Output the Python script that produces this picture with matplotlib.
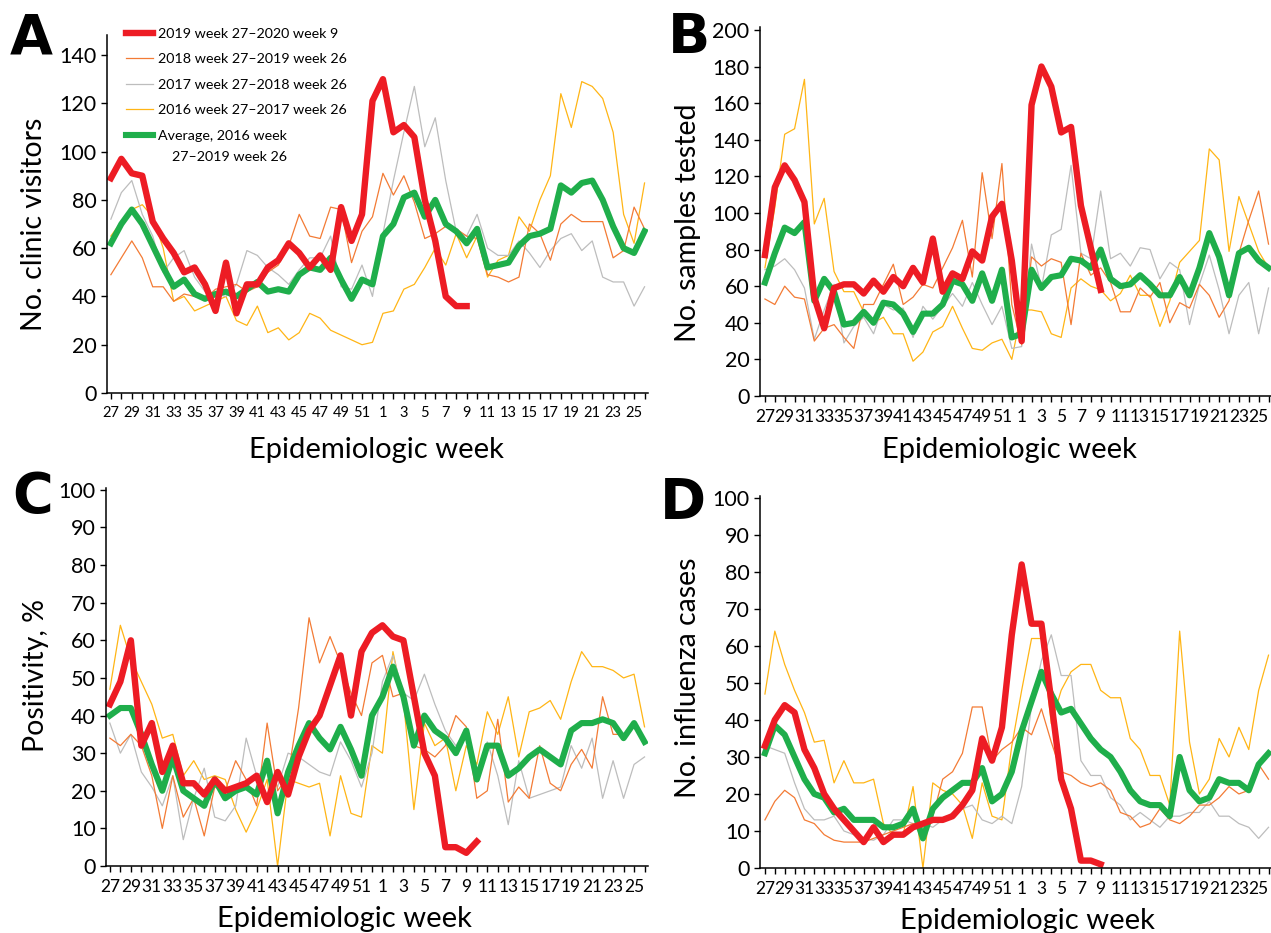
import numpy as np
import matplotlib
matplotlib.use("Agg")
import matplotlib.pyplot as plt
from matplotlib.lines import Line2D

plt.rcParams['font.family'] = ['Lato', 'DejaVu Sans']

weeks = list(range(27, 53)) + list(range(1, 27))

# A: clinic visitors
visits_2019 = [89, 97, 91, 90, 71, 64, 58, 50, 52, 45, 34, 54, 33, 45, 45, 52, 55, 62, 58, 52,
               57, 51, 77, 63, 74, 121, 130, 108, 111, 106, 80, 63, 40, 36, 36]
visits_2018 = [49, 56, 63, 56, 44, 44, 38, 41, 40, 39, 43, 44, 45, 42, 44, 50, 53, 61, 74, 65,
               64, 77, 76, 54, 67, 73, 91, 82, 90, 79, 64, 66, 69, 68, 65, 64, 49, 48, 46, 48,
               70, 66, 55, 70, 74, 71, 71, 71, 56, 59, 77, 68]
visits_2017 = [72, 83, 88, 74, 65, 50, 56, 59, 48, 42, 41, 40, 45, 59, 57, 52, 49, 45, 51, 56,
               56, 65, 44, 43, 53, 40, 66, 88, 108, 127, 102, 114, 88, 67, 65, 74, 60, 57, 57, 63,
               58, 52, 59, 64, 66, 59, 63, 48, 46, 46, 36, 44]
visits_2016 = [65, 71, 76, 78, 73, 60, 38, 40, 34, 36, 38, 40, 30, 28, 36, 25, 27, 22, 25, 33,
               31, 26, 24, 22, 20, 21, 33, 34, 43, 45, 52, 60, 53, 66, 56, 65, 48, 55, 57, 73,
               67, 80, 90, 124, 110, 129, 127, 122, 108, 74, 62, 87]
visits_avg = [62, 70, 76, 70, 61, 52, 44, 47, 41, 39, 41, 42, 40, 43, 46, 42, 43, 42, 49, 52,
              51, 56, 47, 39, 47, 45, 65, 70, 81, 83, 73, 80, 70, 67, 62, 68, 52, 53, 54, 61,
              65, 66, 68, 86, 83, 87, 88, 80, 69, 60, 58, 67]

# B: samples tested
samples_2019 = [77, 114, 126, 118, 106, 54, 37, 59, 61, 61, 56, 63, 57, 65, 60, 70, 62, 86, 57, 67,
                64, 79, 74, 98, 105, 74, 30, 159, 180, 169, 144, 147, 104, 81, 58]
samples_2018 = [53, 50, 60, 54, 53, 30, 37, 39, 32, 26, 50, 50, 61, 72, 50, 54, 61, 59, 70, 81,
                96, 65, 122, 86, 127, 50, 28, 76, 71, 75, 73, 39, 78, 66, 70, 62, 46, 46, 59, 54,
                62, 40, 51, 48, 61, 55, 43, 52, 78, 96, 112, 83]
samples_2017 = [69, 71, 75, 69, 59, 31, 47, 61, 29, 38, 43, 34, 50, 47, 48, 32, 49, 42, 49, 56,
                49, 62, 50, 39, 49, 26, 27, 83, 59, 88, 91, 126, 78, 75, 112, 75, 78, 71, 81, 80,
                64, 73, 69, 39, 61, 77, 58, 34, 55, 62, 34, 59]
samples_2016 = [70, 103, 143, 146, 173, 94, 108, 68, 57, 57, 46, 40, 43, 34, 34, 19, 24, 35, 38, 49,
                37, 26, 25, 29, 31, 20, 47, 47, 46, 34, 32, 59, 64, 60, 58, 52, 56, 66, 55, 55,
                38, 52, 73, 79, 85, 135, 129, 79, 109, 94, 79, 70]
samples_avg = [62, 78, 92, 89, 95, 52, 64, 57, 39, 40, 46, 40, 51, 50, 45, 35, 45, 45, 50, 63,
               61, 52, 67, 52, 69, 32, 34, 69, 59, 65, 66, 75, 74, 70, 80, 64, 60, 61, 66, 61,
               55, 55, 65, 55, 70, 89, 76, 55, 78, 81, 74, 70]

# C: positivity %
pos_2019 = [43, 49, 60, 32, 38, 25, 32, 22, 22, 19, 23, 20, 21, 22, 24, 17, 25, 19, 29, 36,
            40, 48, 56, 40, 57, 62, 64, 61, 60, 45, 30, 24, 5, 5, 3.5, 6.5]
pos_2018 = [34, 32, 35, 32, 24, 10, 24, 13, 18, 8, 21, 20, 28, 23, 16, 38, 20, 24, 42, 66,
            54, 61, 54, 46, 40, 54, 56, 45, 46, 32, 31, 29, 32, 40, 37, 18, 20, 39, 17, 21,
            18, 32, 22, 20, 27, 31, 26, 45, 35, 35, 37, 33]
pos_2017 = [38, 30, 35, 25, 21, 16, 24, 7, 18, 26, 13, 12, 16, 34, 24, 26, 21, 30, 29, 27,
            25, 24, 33, 28, 21, 30, 49, 56, 46, 44, 51, 43, 36, 32, 36, 24, 33, 24, 11, 28,
            18, 19, 20, 21, 32, 26, 34, 18, 28, 18, 27, 29]
pos_2016 = [47, 64, 55, 49, 43, 34, 35, 24, 28, 23, 24, 23, 15, 9, 15, 23, 0, 23, 22, 21,
            22, 8, 24, 14, 13, 32, 30, 57, 44, 15, 38, 32, 34, 20, 32, 27, 41, 35, 45, 29,
            41, 42, 44, 39, 49, 57, 53, 53, 52, 50, 51, 37]
pos_avg = [40, 42, 42, 35, 27, 20, 29, 20, 18, 16, 23, 18, 20, 21, 19, 28, 14, 25, 32, 38,
           34, 31, 37, 31, 24, 40, 45, 53, 45, 32, 40, 36, 34, 30, 36, 23, 32, 32, 24, 26,
           29, 31, 29, 27, 36, 38, 38, 39, 38, 34, 38, 33]

# D: influenza cases
flu_2019 = [33, 40, 44, 42, 32, 27, 20, 16, 13, 10, 7, 11, 7, 9, 9, 11, 12, 13, 13, 14,
            17, 21, 35, 29, 38, 63, 82, 66, 66, 45, 24, 16, 2, 2, 1]
flu_2018 = [13, 18, 21, 19, 13, 12, 9, 7.5, 7, 7, 7, 8, 9, 10, 11, 12, 11, 14, 24, 26,
            31, 43.5, 43.5, 29, 32, 34, 38, 36, 43, 34, 26, 25, 23, 22, 23, 21, 15, 14, 11, 12,
            16, 13, 12, 14, 17, 17, 19, 22, 20, 21, 28, 24]
flu_2017 = [33, 32, 31, 23, 16, 13, 13, 14, 10, 9, 8, 7.5, 9, 13, 13, 12, 12, 11, 13, 15,
            16, 17, 13, 12, 14, 12, 22, 44, 56, 63, 52, 52, 29, 25, 25, 19, 17, 13, 15, 13,
            11, 14, 14, 15, 15, 18, 14, 14, 12, 11, 8, 11]
flu_2016 = [47, 64, 55, 48, 42, 34, 34.5, 23, 29, 23, 23, 24, 12, 9, 9, 22, 0, 23, 21, 20,
            17, 8, 23, 14, 13, 33, 48, 62, 62, 39, 48, 53, 55, 55, 48, 46, 46, 35, 32, 25,
            25, 17, 64, 34, 20, 24, 35, 30, 38, 32, 48, 57.5]
flu_avg = [31, 38.5, 36, 30, 24, 20, 19, 15, 16, 13, 13, 13, 11, 11, 12, 16, 8, 16, 19, 21,
           23, 23, 27, 18, 20, 26, 37, 45, 53, 47, 42, 43, 39, 35, 32, 30, 26, 21, 18, 17,
           17, 14, 30, 21, 18, 19, 24, 23, 23, 21, 28, 31]

legend_labels = ['2019 week 27\u20132020 week 9', '2018 week 27\u20132019 week 26',
                 '2017 week 27\u20132018 week 26', '2016 week 27\u20132017 week 26',
                 'Average, 2016 week']

RED = '#ED1C24'
ORANGE = '#F37B35'
GRAY = '#BDBDBD'
YELLOW = '#FFB515'
GREEN = '#1FAE4B'

W, H = 1271, 933
fig = plt.figure(figsize=(W / 100, H / 100), dpi=100)


def box(l, r, t, b):
    return [l / W, 1 - b / H, (r - l) / W, (b - t) / H]


def panel(rect, s19, s18, s17, s16, avg, ylim, yticks, xlim, xfs):
    ax = fig.add_axes(rect)
    x = np.arange(len(weeks))
    ax.plot(x, s16, color=YELLOW, lw=0.9)
    ax.plot(x, s17, color=GRAY, lw=0.9)
    ax.plot(x, s18, color=ORANGE, lw=0.9)
    ax.plot(x, avg, color=GREEN, lw=4.4, solid_joinstyle='round')
    ax.plot(np.arange(len(s19)), s19, color=RED, lw=4.6, solid_joinstyle='round')
    ax.set_ylim(*ylim)
    ax.set_yticks(yticks)
    ax.set_xlim(*xlim)
    ax.set_xticks(x)
    ax.set_xticklabels([str(w) if i % 2 == 0 else '' for i, w in enumerate(weeks)])
    for s in ['top', 'right']:
        ax.spines[s].set_visible(False)
    for s in ['left', 'bottom']:
        ax.spines[s].set_linewidth(1.1)
    ax.tick_params(axis='y', length=4.5, width=1.0, pad=3, labelsize=15.5)
    ax.tick_params(axis='x', length=4.5, width=1.0, pad=5, labelsize=xfs)
    return ax


axA = panel(box(107, 648, 35, 393), visits_2019, visits_2018, visits_2017, visits_2016, visits_avg,
            (0, 148.3), range(0, 141, 20), (-0.37, 51.33), 10.5)
axB = panel(box(760, 1271, 27, 396), samples_2019, samples_2018, samples_2017, samples_2016, samples_avg,
            (0, 201.6), range(0, 201, 20), (-0.5, 51.25), 12.5)
axC = panel(box(106, 648, 488, 866), pos_2019, pos_2018, pos_2017, pos_2016, pos_avg,
            (0, 100.5), range(0, 101, 10), (-0.37, 51.33), 12.5)
axD = panel(box(760, 1271, 496, 868), flu_2019, flu_2018, flu_2017, flu_2016, flu_avg,
            (0, 100.5), range(0, 101, 10), (-0.5, 51.25), 12.5)

handles = [Line2D([], [], color=RED, lw=4.6), Line2D([], [], color=ORANGE, lw=0.9),
           Line2D([], [], color=GRAY, lw=0.9), Line2D([], [], color=YELLOW, lw=0.9),
           Line2D([], [], color=GREEN, lw=4.4)]
fig.legend(handles, legend_labels, loc='upper left', bbox_to_anchor=(126 / W, 1 - 28 / H),
           frameon=False, fontsize=10.3, handlelength=1.89, handletextpad=0.35,
           labelspacing=0.94, borderpad=0, borderaxespad=0)
fig.text(172 / W, 1 - 157 / H, '27\u20132019 week 26', fontsize=10.3, va='center', ha='left')

# panel letters
for lab, px, py in [('A', 10, 53), ('B', 668, 53), ('C', 12, 512), ('D', 660, 518)]:
    fig.text(px / W, 1 - py / H, lab, fontsize=40, fontweight='bold', family='DejaVu Sans',
             ha='left', va='baseline')

# axis titles
for lab, px, py in [('No. clinic visitors', 34, 224), ('No. samples tested', 688, 223),
                    ('Positivity, %', 36, 676), ('No. influenza cases', 688, 678)]:
    fig.text(px / W, 1 - py / H, lab, fontsize=20.5, rotation=90, ha='center', va='center')

for px, py in [(376, 458), (1009, 458), (344, 927), (1027, 929)]:
    fig.text(px / W, 1 - py / H, 'Epidemiologic week', fontsize=21, ha='center', va='baseline')

fig.savefig('out.png', dpi=100, facecolor='white')
